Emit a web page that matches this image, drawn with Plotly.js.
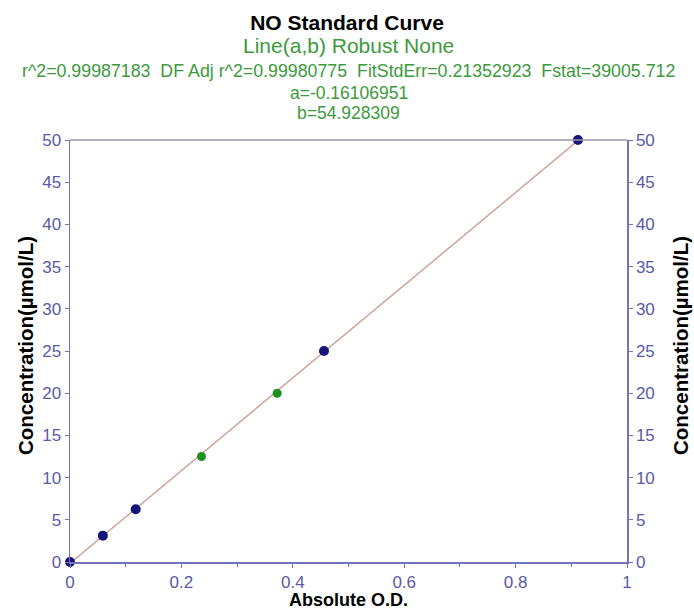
<!DOCTYPE html>
<html>
<head>
<meta charset="utf-8">
<script src="https://cdn.plot.ly/plotly-3.0.1.min.js"></script>
<style>html,body{margin:0;padding:0;background:#fff;}#chart{width:694px;height:610px;}</style>
</head>
<body>
<div id="chart"></div>
<script>
// Standard points (blue) and extra points (green)
const stdOD = [0, 0.059, 0.118, 0.456, 0.912];
const stdConc = [0, 3.125, 6.25, 25, 50];
const extraOD = [0.236, 0.372];
const extraConc = [12.5, 20];
// Fit parameters
const fitA = -0.16106951;
const fitB = 54.928309;
const fitX = [0, 0.912];
const fitY = fitX.map(x => fitA + fitB * x);
const titleLines = [
  "Line(a,b) Robust None",
  "r^2=0.99987183&nbsp;&nbsp;DF Adj r^2=0.99980775&nbsp;&nbsp;FitStdErr=0.21352923&nbsp;&nbsp;Fstat=39005.712",
  "a=-0.16106951",
  "b=54.928309"
];
const xTicks = [0, 0.2, 0.4, 0.6, 0.8, 1];
const xTickText = ["0", "0.2", "0.4", "0.6", "0.8", "1"];
const yTicks = [0, 5, 10, 15, 20, 25, 30, 35, 40, 45, 50];
const yTitle = "Concentration(µmol/L)";

const axisColor = "#7474bd";
const tickColor = "#5a5aa8";
const green = "#3c9a3c";
const font = "Liberation Sans, Arial, sans-serif";

const traces = [
  {x: fitX, y: fitY, mode: "lines", line: {color: "#c99a8c", width: 1.3}, cliponaxis: false, hoverinfo: "skip"},
  {x: stdOD, y: stdConc, mode: "markers", marker: {color: "#14147a", size: 10}, cliponaxis: false},
  {x: extraOD, y: extraConc, mode: "markers", marker: {color: "#1f8f1f", size: 9}, cliponaxis: false},
  {x: [0], y: [0], yaxis: "y2", mode: "markers", marker: {opacity: 0}, hoverinfo: "skip"}
];

const yLines = [45, 71, 93, 113];
const yFont = [21, 17.8, 17.5, 17.5];
const annotations = titleLines.map((t, i) => ({
  text: t, xref: "paper", yref: "paper", x: 0.5, y: 1, xanchor: "center", yanchor: "middle",
  yshift: 140 - yLines[i], showarrow: false, font: {family: font, size: yFont[i], color: green}
}));
annotations.push({
  text: "<b>" + yTitle + "</b>", xref: "paper", yref: "paper", x: 0, y: 0.5,
  xanchor: "center", yanchor: "middle", xshift: 25 - 70, yshift: 5, textangle: -90, showarrow: false,
  font: {family: font, size: 20.5, color: "#000"}
});
annotations.push({
  text: "<b>" + yTitle + "</b>", xref: "paper", yref: "paper", x: 1, y: 0.5,
  xanchor: "center", yanchor: "middle", xshift: 680 - 627, yshift: 5, textangle: -90, showarrow: false,
  font: {family: font, size: 20.5, color: "#000"}
});

const layout = {
  width: 694, height: 610,
  margin: {l: 70, r: 67, t: 140, b: 48},
  paper_bgcolor: "#fff", plot_bgcolor: "#fff",
  showlegend: false,
  font: {family: font},
  title: {text: "<b>NO Standard Curve</b>", x: 0.5, xanchor: "center", y: 1 - 23 / 610, yanchor: "middle", yref: "container",
          font: {family: font, size: 21, color: "#000"}},
  xaxis: {
    range: [0, 1], tickvals: xTicks, ticktext: xTickText, showgrid: false, zeroline: false,
    showline: true, linecolor: axisColor, linewidth: 1.5, ticks: "outside", ticklen: 4, tickcolor: axisColor,
    minor: {ticks: "outside", ticklen: 3, dtick: 0.1, tick0: 0, tickcolor: axisColor, showgrid: false},
    tickfont: {family: font, size: 17, color: tickColor},
    title: {text: "<b>Absolute O.D.</b>", font: {family: font, size: 18, color: "#000"}, standoff: 2}
  },
  yaxis: {
    range: [0, 50], tickvals: yTicks, showgrid: false, zeroline: false,
    showline: true, linecolor: axisColor, linewidth: 1.5, ticks: "outside", ticklen: 4, tickcolor: axisColor,
    tickfont: {family: font, size: 17, color: tickColor}
  },
  yaxis2: {
    range: [0, 50], tickvals: yTicks, overlaying: "y", side: "right", anchor: "x", showgrid: false, zeroline: false,
    showline: true, linecolor: axisColor, linewidth: 1.5, ticks: "outside", ticklen: 4, tickcolor: axisColor,
    tickfont: {family: font, size: 17, color: tickColor}
  },
  shapes: [{type: "line", xref: "paper", yref: "paper", x0: 0, x1: 1, y0: 1, y1: 1, line: {color: "#9a9aa8", width: 1.3}}],
  annotations: annotations
};

Plotly.newPlot("chart", traces, layout, {displayModeBar: false, staticPlot: true});
</script>
</body>
</html>
